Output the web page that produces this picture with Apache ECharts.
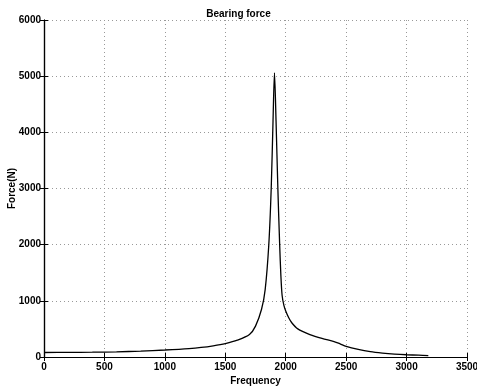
<!DOCTYPE html>
<html>
<head>
<meta charset="utf-8">
<script src="https://cdn.jsdelivr.net/npm/echarts@6/dist/echarts.min.js"></script>
<style>
  html, body { margin: 0; padding: 0; background: #fff; }
  #chart { width: 477px; height: 388px; }
</style>
</head>
<body>
<div id="chart"></div>
<script>
// 频率 (Hz) 与轴承力 (N)
var freq = [0, 200, 400, 600, 800, 1000, 1200, 1300, 1400, 1500, 1600, 1700, 1750, 1800, 1830, 1860, 1880, 1895, 1907,
            1920, 1935, 1950, 1960, 1970, 1985, 2000, 2025, 2050, 2100, 2200, 2300, 2400, 2450, 2500, 2600, 2700, 2800, 2900, 3000, 3100, 3180];
var force = [80, 82, 86, 92, 105, 125, 150, 170, 200, 240, 300, 400, 550, 850, 1200, 2000, 3000, 4200, 5060,
             4200, 3000, 2000, 1450, 1100, 920, 820, 700, 610, 500, 400, 330, 275, 235, 190, 135, 95, 70, 52, 40, 32, 26];
var xTicks = [0, 500, 1000, 1500, 2000, 2500, 3000, 3500];
var yTicks = [0, 1000, 2000, 3000, 4000, 5000, 6000];

var points = [];
for (var i = 0; i < freq.length; i++) {
    points.push([freq[i], force[i]]);
}

var font = 'Liberation Sans';
var axisLine = { show: true, lineStyle: { color: '#000', width: 1.2 } };
var tick = { show: true, inside: true, length: 4, lineStyle: { color: '#000' } };
var grid = { show: true, lineStyle: { color: '#999', type: [1, 3], width: 1 } };
var plain = function (v) { return String(v); };

var chart = echarts.init(document.getElementById('chart'));
chart.setOption({
    animation: false,
    title: {
        text: 'Bearing force',
        left: 'center',
        top: 4,
        textStyle: { fontFamily: font, fontSize: 10, fontWeight: 'bold', color: '#000' }
    },
    grid: { left: 44, right: 10, top: 20, bottom: 31, outerBoundsMode: 'none', containLabel: false },
    xAxis: [{
        type: 'value',
        min: xTicks[0],
        max: xTicks[xTicks.length - 1],
        interval: 500,
        name: 'Frequency',
        nameLocation: 'middle',
        nameGap: 19,
        nameMoveOverlap: false,
        nameTextStyle: { fontFamily: font, fontSize: 10, fontWeight: 'bold', color: '#000' },
        axisLine: axisLine,
        axisTick: tick,
        splitLine: grid,
        axisLabel: { fontFamily: font, fontSize: 10, fontWeight: 'bold', color: '#000', margin: 5, formatter: plain }
    }, {
        type: 'value',
        position: 'top',
        min: 0, max: 3500, interval: 500,
        axisLine: axisLine,
        axisTick: tick,
        splitLine: { show: false },
        axisLabel: { show: false }
    }],
    yAxis: [{
        type: 'value',
        min: yTicks[0],
        max: yTicks[yTicks.length - 1],
        interval: 1000,
        name: 'Force(N)',
        nameLocation: 'middle',
        nameGap: 27,
        nameMoveOverlap: false,
        nameTextStyle: { fontFamily: font, fontSize: 10, fontWeight: 'bold', color: '#000' },
        axisLine: axisLine,
        axisTick: tick,
        splitLine: grid,
        axisLabel: { fontFamily: font, fontSize: 10, fontWeight: 'bold', color: '#000', margin: 3, formatter: plain }
    }, {
        type: 'value',
        position: 'right',
        min: 0, max: 6000, interval: 1000,
        axisLine: axisLine,
        axisTick: tick,
        splitLine: { show: false },
        axisLabel: { show: false }
    }],
    series: [{
        type: 'line',
        data: points,
        smooth: 0.3,
        showSymbol: false,
        lineStyle: { color: '#000', width: 1.3 }
    }]
});
</script>
</body>
</html>
